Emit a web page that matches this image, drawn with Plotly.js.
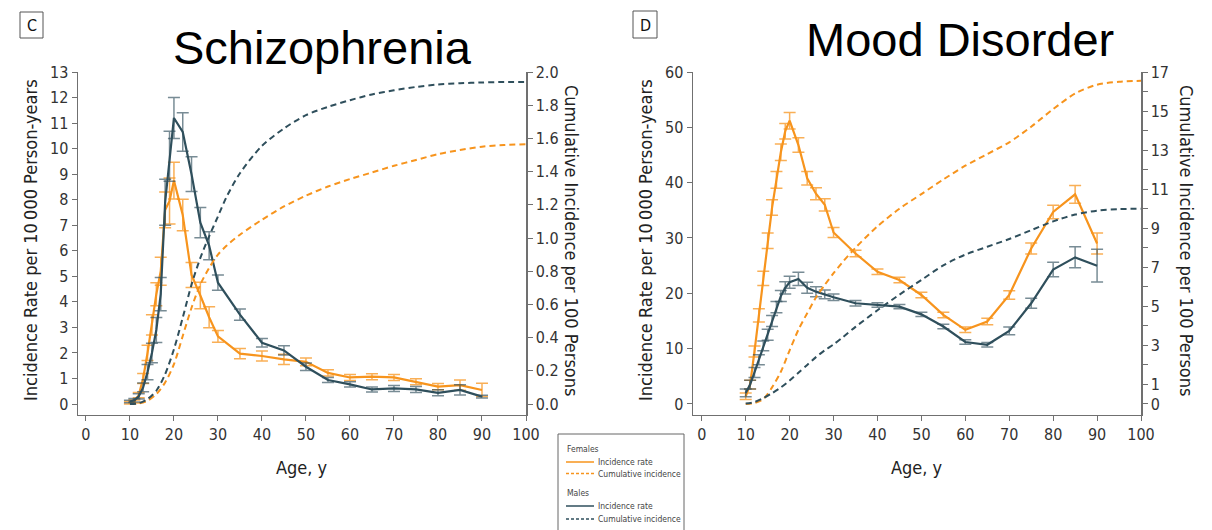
<!DOCTYPE html>
<html>
<head>
<meta charset="utf-8">
<script src="https://cdn.plot.ly/plotly-3.0.1.min.js"></script>
<style>html,body{margin:0;padding:0;background:#fff;}#chart{width:1212px;height:530px;}</style>
</head>
<body>
<div id="chart"></div>
<script>
// ---------- data ----------
const ages = [10,11,12,13,14,15,16,17,18,19,20,22,24,26,28,30,35,40,45,50,55,60,65,70,75,80,85,90];
const cumAges = [10,12,14,16,18,20,22,24,26,28,30,32,35,40,45,50,55,60,65,70,75,80,85,90,95,100];

// Schizophrenia: incidence per 10 000 person-years
const sczFemaleRate = [0.05,0.1,0.35,1.0,2.0,3.1,4.3,5.2,7.6,7.95,8.75,7.4,5.05,4.25,3.4,2.65,1.97,1.88,1.75,1.65,1.22,1.04,1.07,1.04,0.87,0.68,0.74,0.55];
const sczFemaleErr  = [0.05,0.06,0.1,0.2,0.3,0.4,0.45,0.55,0.7,0.9,0.72,0.62,0.49,0.52,0.41,0.23,0.2,0.2,0.2,0.15,0.12,0.12,0.12,0.12,0.12,0.12,0.2,0.26];
const sczMaleRate   = [0.1,0.15,0.3,0.65,1.25,2.0,2.9,4.3,7.9,9.7,11.2,10.65,9.0,7.1,6.2,4.75,3.5,2.4,2.1,1.46,0.94,0.77,0.57,0.61,0.57,0.44,0.55,0.29];
const sczMaleErr    = [0.05,0.07,0.1,0.17,0.3,0.38,0.49,0.65,0.9,0.98,0.8,0.75,0.68,0.59,0.55,0.3,0.22,0.17,0.18,0.15,0.1,0.1,0.1,0.12,0.12,0.12,0.2,0.05];
// Schizophrenia: cumulative incidence per 100 persons
const sczFemaleCum = [0,0.004,0.02,0.06,0.13,0.24,0.41,0.58,0.72,0.82,0.9,0.955,1.02,1.11,1.19,1.255,1.31,1.355,1.395,1.435,1.47,1.505,1.53,1.55,1.56,1.565];
const sczMaleCum   = [0,0.005,0.03,0.08,0.18,0.33,0.52,0.72,0.88,1.01,1.13,1.25,1.39,1.555,1.66,1.74,1.79,1.83,1.865,1.89,1.91,1.925,1.932,1.937,1.94,1.94];

// Mood disorder: incidence per 10 000 person-years
const moodFemaleRate = [1.4,3.5,9.5,16,22.7,29.5,35.5,40.5,45.5,49.3,51.2,46.8,40.8,38.0,36.0,31.0,27.2,23.9,22.4,19.7,16.1,13.4,14.9,19.7,28.1,34.7,37.9,29.0];
const moodFemaleErr  = [0.6,0.8,1,1.2,1.3,1.4,1.4,1.5,1.5,1.4,1.5,1.3,1.2,1.1,1.1,0.9,0.6,0.5,0.5,0.5,0.5,0.5,0.6,0.75,1.0,1.2,1.6,1.9];
const moodMaleRate   = [2.0,3.5,5.7,8.0,10.5,12.5,15.0,17.5,19.5,21.0,22.0,22.6,21.0,20.3,19.8,19.3,18.2,17.9,17.6,16.2,14.0,11.2,10.7,13.2,18.2,24.3,26.5,25.0];
const moodMaleErr    = [0.7,0.8,0.9,0.9,0.9,1.0,1.0,1.0,1.0,1.1,1.1,1.2,1.0,0.9,0.8,0.6,0.5,0.4,0.4,0.4,0.4,0.4,0.4,0.7,0.9,1.3,1.9,2.95];
// Mood disorder: cumulative incidence per 100 persons
const moodFemaleCum = [0,0.05,0.25,0.85,1.65,2.75,3.8,4.65,5.45,6.1,6.7,7.25,8.0,9.1,10.0,10.75,11.5,12.2,12.8,13.4,14.2,15.1,15.9,16.35,16.5,16.55];
const moodMaleCum   = [0.02,0.1,0.3,0.55,0.85,1.2,1.6,2.0,2.4,2.75,3.05,3.4,3.95,4.8,5.6,6.35,7.1,7.65,8.05,8.45,8.9,9.35,9.7,9.9,9.98,10.0];

// tick labels
const xTicks = [0,10,20,30,40,50,60,70,80,90,100];
const sczRateTicks = [0,1,2,3,4,5,6,7,8,9,10,11,12,13];
const sczCumTicks = [0,0.2,0.4,0.6,0.8,1.0,1.2,1.4,1.6,1.8,2.0];
const moodRateTicks = [0,10,20,30,40,50,60];
const moodCumTicks = [0,1,2,3,4,5,6,7,8,9,10,11,12,13,14,15,16,17];
const moodCumLabels = ['0','1','','3','','5','','7','','9','','11','','13','','15','','17'];

const panelTitles = ['Schizophrenia','Mood Disorder'];
const panelLetters = ['C','D'];
const xTitle = 'Age, y';
const yLeftTitle = 'Incidence Rate per 10\u2009000 Person-years';
const yRightTitle = 'Cumulative Incidence per 100 Persons';
const legendGroups = ['Females','Males'];
const legendItems = ['Incidence rate','Cumulative incidence'];

// ---------- style ----------
const W = 1212, H = 530;
const ORANGE = '#F7941D', ORANGE_ERR = 'rgba(247,148,29,0.75)';
const DARK = '#2F4F5C', DARK_ERR = 'rgba(47,79,92,0.65)';
const COND = '"Liberation Sans Narrow", "DejaVu Sans Condensed", "Noto Sans", sans-serif';
const px = v => v / W, py = v => 1 - v / H;

function rateTrace(y, err, color, ecolor, xa, ya) {
  return {x: ages, y: y, type: 'scatter', mode: 'lines', xaxis: xa, yaxis: ya, showlegend: false,
    line: {color: color, width: 2.2},
    error_y: {type: 'data', array: err, visible: true, color: ecolor, thickness: 1.5, width: 6}};
}
function cumTrace(y, color, xa, ya) {
  return {x: cumAges, y: y, type: 'scatter', mode: 'lines', xaxis: xa, yaxis: ya, showlegend: false,
    line: {color: color, width: 2, dash: '6px,4px', shape: 'spline', smoothing: 0.8}};
}

const data = [
  cumTrace(sczFemaleCum, ORANGE, 'x', 'y2'),
  cumTrace(sczMaleCum, DARK, 'x', 'y2'),
  rateTrace(sczFemaleRate, sczFemaleErr, ORANGE, ORANGE_ERR, 'x', 'y'),
  rateTrace(sczMaleRate, sczMaleErr, DARK, DARK_ERR, 'x', 'y'),
  cumTrace(moodFemaleCum, ORANGE, 'x2', 'y4'),
  cumTrace(moodMaleCum, DARK, 'x2', 'y4'),
  rateTrace(moodFemaleRate, moodFemaleErr, ORANGE, ORANGE_ERR, 'x2', 'y3'),
  rateTrace(moodMaleRate, moodMaleErr, DARK, DARK_ERR, 'x2', 'y3')
];

const yDom = [py(414.5), py(72)];
const tickFont = {family: COND, size: 16, color: '#333'};
const axBase = {showline: true, linecolor: '#707070', linewidth: 1.5, ticks: 'outside', ticklen: 5,
  tickwidth: 1, tickcolor: '#707070', showgrid: false, zeroline: false, tickfont: tickFont, fixedrange: true};

const layout = {
  width: W, height: H, margin: {l: 0, r: 0, t: 0, b: 0},
  paper_bgcolor: '#fff', plot_bgcolor: '#fff', showlegend: false,
  xaxis: Object.assign({}, axBase, {domain: [px(78), px(526)], range: [-1.8, 100], tickvals: xTicks, anchor: 'y'}),
  yaxis: Object.assign({}, axBase, {domain: yDom, range: [-0.41, 13], tickvals: sczRateTicks, anchor: 'x'}),
  yaxis2: Object.assign({}, axBase, {domain: yDom, range: [-0.41 * 2 / 13, 2], tickvals: sczCumTicks, tickformat: '.1f',
    overlaying: 'y', side: 'right', anchor: 'x'}),
  xaxis2: Object.assign({}, axBase, {domain: [px(693), px(1141)], range: [-2, 100], tickvals: xTicks, anchor: 'y3'}),
  yaxis3: Object.assign({}, axBase, {domain: yDom, range: [-1.9, 60], tickvals: moodRateTicks, anchor: 'x2'}),
  yaxis4: Object.assign({}, axBase, {domain: yDom, range: [-1.9 * 17 / 60, 17], tickvals: moodCumTicks, ticktext: moodCumLabels,
    overlaying: 'y3', side: 'right', anchor: 'x2'}),
  shapes: [],
  annotations: []
};

const A = layout.annotations, S = layout.shapes;
function txt(t, x, y, opts) {
  A.push(Object.assign({text: t, x: px(x), y: py(y), xref: 'paper', yref: 'paper', showarrow: false,
    xanchor: 'center', yanchor: 'middle', font: {family: COND, size: 18, color: '#222'}}, opts || {}));
}
// titles
txt(panelTitles[0], 322, 48, {font: {family: '"Liberation Sans", Arial, sans-serif', size: 47, color: '#000'}});
txt(panelTitles[1], 960, 40, {font: {family: '"Liberation Sans", Arial, sans-serif', size: 47, color: '#000'}});
// axis titles
txt(xTitle, 302, 467);
txt(xTitle, 917, 467);
txt(yLeftTitle, 30, 240, {textangle: -90});
txt(yRightTitle, 572, 240, {textangle: 90});
txt(yLeftTitle, 645, 240, {textangle: -90});
txt(yRightTitle, 1187, 240, {textangle: 90});
// panel letters
[[20, 43, 12, 38], [633, 657, 11, 38]].forEach((b, i) => {
  S.push({type: 'rect', xref: 'paper', yref: 'paper', x0: px(b[0]), x1: px(b[1]), y0: py(b[3]), y1: py(b[2]),
    line: {color: '#555', width: 1}, fillcolor: 'rgba(0,0,0,0)'});
  txt(panelLetters[i], (b[0] + b[1]) / 2, (b[2] + b[3]) / 2 + 1, {font: {family: COND, size: 16, color: '#111'}});
});
// legend box
S.push({type: 'rect', xref: 'paper', yref: 'paper', x0: px(558), x1: px(684), y0: py(540), y1: py(434),
  line: {color: '#666', width: 1}, fillcolor: '#fff'});
const legFont = {family: COND, size: 8.5, color: '#444'};
const legRows = [
  {group: 0, y: 449},
  {group: 0, item: 0, y: 462, color: ORANGE, dash: 'solid'},
  {group: 0, item: 1, y: 473.5, color: ORANGE, dash: '3px,2px'},
  {group: 1, y: 493},
  {group: 1, item: 0, y: 506, color: DARK, dash: 'solid'},
  {group: 1, item: 1, y: 519, color: DARK, dash: '3px,2px'}
];
legRows.forEach(r => {
  if (r.item === undefined) {
    txt(legendGroups[r.group], 565, r.y, {xanchor: 'left', font: legFont});
  } else {
    S.push({type: 'line', xref: 'paper', yref: 'paper', x0: px(566), x1: px(594), y0: py(r.y), y1: py(r.y),
      line: {color: r.color, width: 1.5, dash: r.dash}});
    txt(legendItems[r.item], 596, r.y, {xanchor: 'left', font: legFont});
  }
});

Plotly.newPlot('chart', data, layout, {displayModeBar: false, staticPlot: true});
</script>
</body>
</html>
